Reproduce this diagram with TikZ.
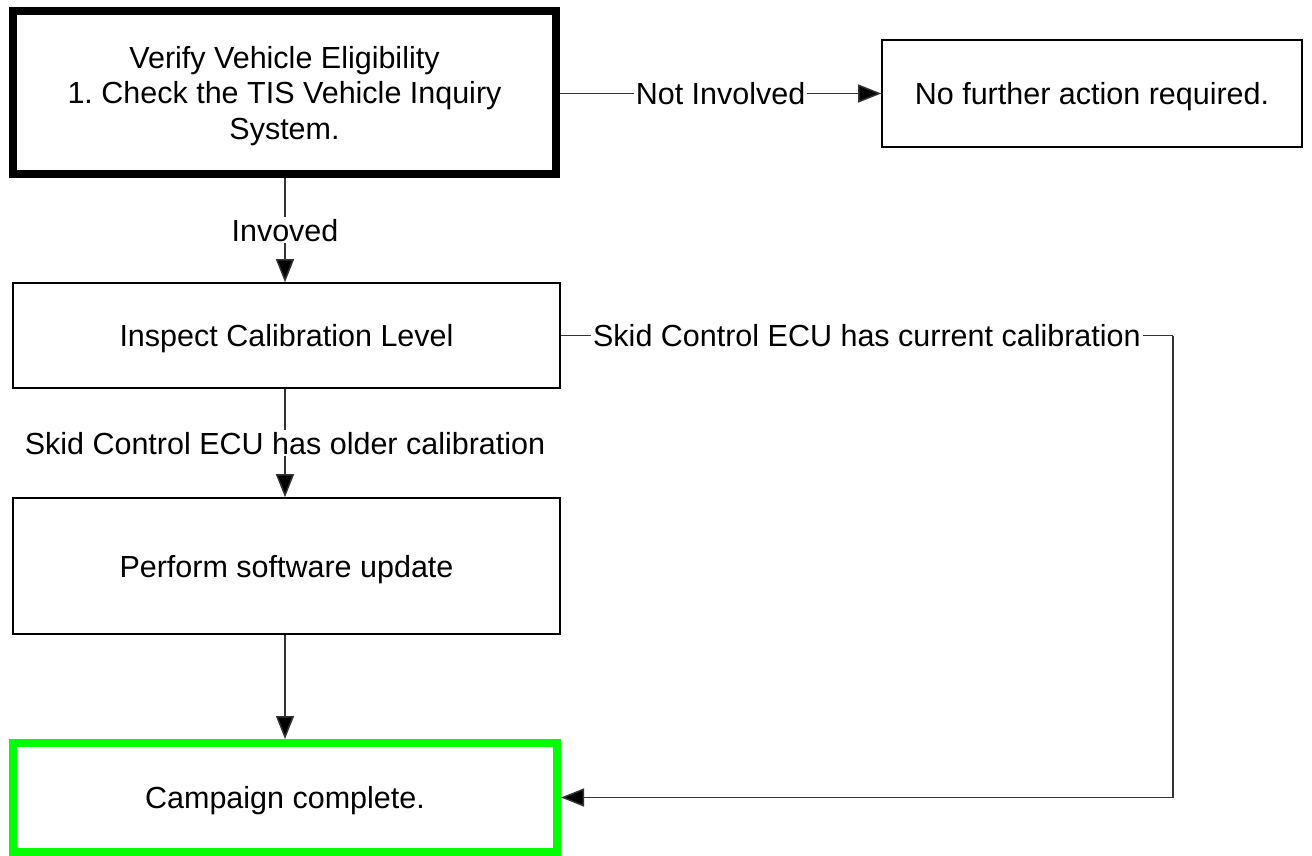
\documentclass[tikz,border=0pt]{standalone}
\usepackage{fontspec}
\setmainfont{Liberation Sans}
\usetikzlibrary{arrows.meta}
\definecolor{brightgreen}{RGB}{0,255,0}
\begin{document}
\frenchspacing
\begin{tikzpicture}[x=1pt,y=-1pt,
  font=\fontsize{30.5}{35.5}\selectfont,
  box/.style={draw=black, line width=1.6pt, fill=white, align=center, inner sep=0pt, text depth=0pt},
  conn/.style={draw=black!80, line width=1.5pt, -{Triangle[length=23pt,width=18pt,fill=black]}},
  plain/.style={draw=black!80, line width=1.5pt},
  lbl/.style={fill=white, inner sep=2pt, text=black, text depth=0pt}]
\useasboundingbox (0,0) rectangle (1312,856);
\node[box, line width=8pt, minimum width=543pt, minimum height=163pt] (verify) at (284.5,92.5)
  {Verify Vehicle Eligibility\\1. Check the TIS Vehicle Inquiry\\System.};
\node[box, minimum width=420pt, minimum height=107pt] (nofurther) at (1092,93.5)
  {No further action required.};
\node[box, minimum width=547pt, minimum height=105pt] (inspect) at (286.5,335.5)
  {Inspect Calibration Level};
\node[box, minimum width=547pt, minimum height=136pt] (perform) at (286.5,566)
  {Perform software update};
\node[box, draw=brightgreen, line width=8pt, minimum width=544pt, minimum height=109pt] (done) at (285,797.5)
  {Campaign complete.};
\coordinate (c1) at (1173,335.5);
\coordinate (c2) at (1173,797.5);
\draw[conn] (verify.east |- nofurther.west) -- node[lbl]{Not Involved} (nofurther.west);
\draw[conn] (verify.south -| 285,0) -- node[lbl]{Invoved} (inspect.north -| 285,0);
\draw[conn] (inspect.south -| 285,0) -- node[lbl]{Skid Control ECU has older calibration} (perform.north -| 285,0);
\draw[conn] (perform.south -| 285,0) -- (done.north -| 285,0);
\draw[plain] (inspect.east) -- node[lbl]{Skid Control ECU has current calibration} (c1);
\draw[conn] (c1) -- (c2) -- (done.east);
\end{tikzpicture}
\end{document}
